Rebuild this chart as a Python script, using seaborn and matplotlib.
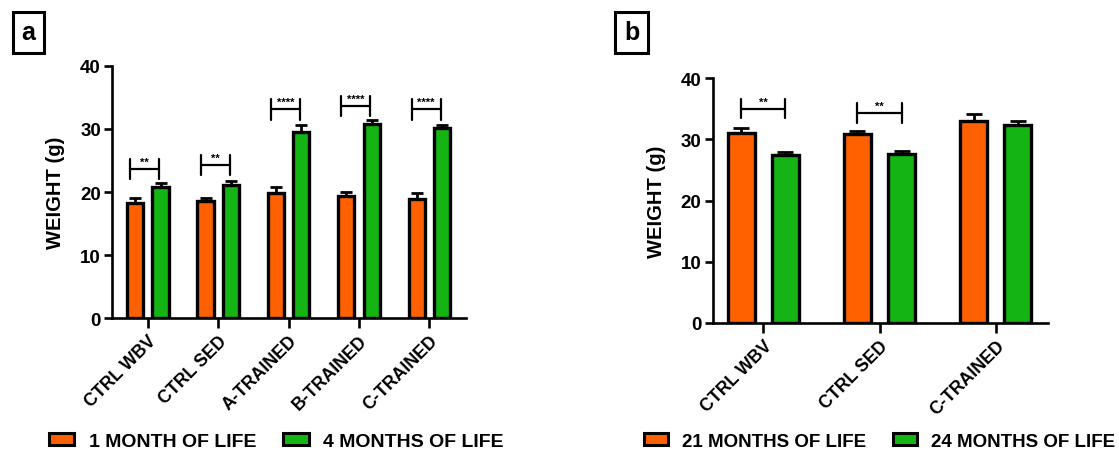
import numpy as np
import pandas as pd
import matplotlib.pyplot as plt
import seaborn as sns
from matplotlib.patches import Patch

# panel a data
groups_a = ["CTRL WBV", "CTRL SED", "A-TRAINED", "B-TRAINED", "C-TRAINED"]
ages_a = ["1 MONTH OF LIFE", "4 MONTHS OF LIFE"]
young_a = [18.3, 18.5, 19.9, 19.3, 18.9]
young_a_err = [0.7, 0.55, 0.9, 0.75, 0.9]
adult_a = [20.8, 21.1, 29.6, 30.8, 30.1]
adult_a_err = [0.6, 0.6, 1.1, 0.6, 0.6]
stars_a = ["**", "**", "****", "****", "****"]
bracket_a = [23.7, 24.3, 33.1, 33.7, 33.1]

# panel b data
groups_b = ["CTRL WBV", "CTRL SED", "C-TRAINED"]
ages_b = ["21 MONTHS OF LIFE", "24 MONTHS OF LIFE"]
old_b = [31.1, 30.8, 32.9]
old_b_err = [0.8, 0.6, 1.2]
older_b = [27.5, 27.6, 32.4]
older_b_err = [0.5, 0.45, 0.6]
stars_b = ["**", "**", None]
bracket_b = [35.0, 34.3, None]

ORANGE = "#FF6100"
GREEN = "#14B414"

sns.set_style("ticks")
plt.rcParams["font.family"] = ["Liberation Sans", "DejaVu Sans"]
plt.rcParams["font.weight"] = "bold"
for key in ["text.color", "axes.labelcolor", "xtick.color", "ytick.color",
            "axes.edgecolor"]:
    plt.rcParams[key] = "black"


def draw_panel(ax, groups, ages, v1, e1, v2, e2, stars, brackets,
               width, gap, xlim, br_off, br_half, capsize):
    df = pd.DataFrame({
        "group": groups * 2,
        "age": [ages[0]] * len(groups) + [ages[1]] * len(groups),
        "weight": list(v1) + list(v2),
    })
    sns.barplot(data=df, x="group", y="weight", hue="age",
                palette=[ORANGE, GREEN], saturation=1, width=width, gap=gap,
                errorbar=None, edgecolor="black", linewidth=2.4,
                legend=False, ax=ax)
    # upward-only error bars at bar centres
    errs = list(e1) + list(e2)
    vals = list(v1) + list(v2)
    bars = [p for p in ax.patches][:len(vals)]
    for p, v, e in zip(bars, vals, errs):
        xc = p.get_x() + p.get_width() / 2
        ax.errorbar(xc, v, yerr=[[0], [e]], fmt="none", ecolor="black",
                    elinewidth=2, capsize=capsize, capthick=2, zorder=1)
    # significance brackets
    for i, (s, y) in enumerate(zip(stars, brackets)):
        if s is None:
            continue
        x0, x1 = i + br_off[0], i + br_off[1]
        ax.plot([x0, x1], [y, y], color="black", lw=1.6)
        ax.plot([x0, x0], [y - br_half, y + br_half], color="black", lw=1.6)
        ax.plot([x1, x1], [y - br_half, y + br_half], color="black", lw=1.6)
        ax.text((x0 + x1) / 2, y + 0.35, s, ha="center", va="bottom",
                fontsize=8, fontweight="bold")
    ax.set_ylim(0, 40)
    ax.set_yticks([0, 10, 20, 30, 40])
    ax.set_xlim(*xlim)
    ax.set_xlabel("")
    ax.set_ylabel("WEIGHT (g)", fontsize=14.5, fontweight="bold", labelpad=11)
    for sp in ["top", "right"]:
        ax.spines[sp].set_visible(False)
    for sp in ["left", "bottom"]:
        ax.spines[sp].set_linewidth(1.9)
    ax.tick_params(axis="y", length=6, width=1.9, labelsize=13.5, pad=2)
    ax.tick_params(axis="x", length=7, width=1.9, labelsize=12.8, pad=3)
    plt.setp(ax.get_xticklabels(), rotation=45, ha="right",
             rotation_mode="anchor", fontweight="bold")
    plt.setp(ax.get_yticklabels(), fontweight="bold")


fig = plt.figure(figsize=(11.19, 4.52), dpi=100)
ax_a = fig.add_axes([0.1001, 0.2942, 0.3163, 0.5576])
ax_b = fig.add_axes([0.6369, 0.2832, 0.2994, 0.5420])

draw_panel(ax_a, groups_a, ages_a, young_a, young_a_err, adult_a, adult_a_err,
           stars_a, bracket_a, width=0.72, gap=0.36, xlim=(-0.51, 4.52),
           br_off=(-0.25, 0.16), br_half=1.6, capsize=4.5)
draw_panel(ax_b, groups_b, ages_b, old_b, old_b_err, older_b, older_b_err,
           stars_b, bracket_b, width=0.76, gap=0.39, xlim=(-0.435, 2.447),
           br_off=(-0.19, 0.19), br_half=1.6, capsize=6)

# boxed panel letters
for x, letter in [(0.0255, "a"), (0.5645, "b")]:
    fig.text(x, 0.926, letter, fontsize=18, fontweight="bold", ha="center",
             va="center",
             bbox=dict(boxstyle="square,pad=0.35", fc="white", ec="black", lw=2.2))

# legends
for x, ages, size in [(0.247, ages_a, 14.0), (0.786, ages_b, 13.5)]:
    handles = [Patch(fc=ORANGE, ec="black", lw=2.2, label=ages[0]),
               Patch(fc=GREEN, ec="black", lw=2.2, label=ages[1])]
    fig.legend(handles=handles, loc="center", bbox_to_anchor=(x, 0.022),
               ncol=2, frameon=False, handlelength=1.3,
               handleheight=0.55, columnspacing=1.4, handletextpad=0.75,
               prop={"weight": "bold", "size": size})

fig.savefig("out.png", dpi=100)
